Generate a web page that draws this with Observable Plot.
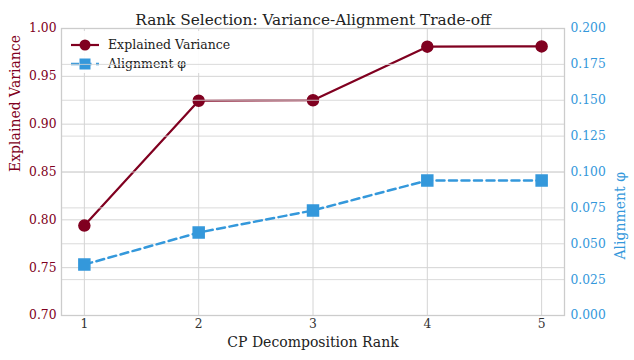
<!DOCTYPE html>
<html>
<head>
<meta charset="utf-8">
<script src="https://cdn.jsdelivr.net/npm/d3@7"></script>
<script src="https://cdn.jsdelivr.net/npm/@observablehq/plot@0.6"></script>
<style>
  html, body { margin: 0; padding: 0; background: white; }
  #chart { position: relative; width: 634px; height: 360px; }
  #chart svg, #chart svg text { font-family: "DejaVu Serif", serif !important; }
</style>
</head>
<body>
<div id="chart"></div>
<script>
const ranks = [1, 2, 3, 4, 5];
const explainedVariance = [0.794, 0.9245, 0.925, 0.981, 0.9813];
const alignment = [0.0355, 0.0578, 0.0732, 0.0941, 0.0941];
const leftTicks = [0.70, 0.75, 0.80, 0.85, 0.90, 0.95, 1.00];
const rightTicks = [0, 0.025, 0.05, 0.075, 0.1, 0.125, 0.15, 0.175, 0.2];

const RED = "#800020";
const BLUE = "#3498db";
const GRID = "#d4d4d4";

// map right-axis values into the left-axis domain
const toLeft = a => 0.70 + a * (0.30 / 0.20);
const fromLeft = v => (v - 0.70) * (0.20 / 0.30);

const evData = ranks.map((r, i) => ({rank: r, value: explainedVariance[i]}));
const alData = ranks.map((r, i) => ({rank: r, value: toLeft(alignment[i])}));

const plot = Plot.plot({
  width: 634,
  height: 360,
  marginTop: 28,
  marginBottom: 45,
  marginLeft: 61,
  marginRight: 70,
  style: {fontFamily: "DejaVu Serif", fontSize: "12px", background: "white", color: "#333"},
  x: {domain: [0.8, 5.2]},
  y: {domain: [0.70, 1.00]},
  marks: [
    Plot.gridY(leftTicks, {stroke: GRID, strokeOpacity: 1, strokeWidth: 1}),
    Plot.gridX(ranks, {stroke: GRID, strokeOpacity: 1, strokeWidth: 1}),
    Plot.axisY(leftTicks, {
      anchor: "left", tickSize: 0, tickPadding: 5,
      tickFormat: d3.format(".2f"), fill: RED, fontSize: 12.3,
      label: null
    }),
    Plot.axisY(rightTicks.map(toLeft), {
      anchor: "right", tickSize: 0, tickPadding: 6,
      tickFormat: v => fromLeft(v).toFixed(3), fill: BLUE, fontSize: 12.3,
      label: null
    }),
    Plot.axisX(ranks, {
      anchor: "bottom", tickSize: 0, tickPadding: 4,
      tickFormat: d3.format("d"), fill: "#333", fontSize: 12.3, label: null
    }),
    Plot.line(evData, {x: "rank", y: "value", stroke: RED, strokeWidth: 2.2}),
    Plot.dot(evData, {x: "rank", y: "value", r: 5.5, fill: RED, stroke: RED, symbol: "circle"}),
    Plot.gridY(rightTicks.map(toLeft), {stroke: GRID, strokeOpacity: 0.85, strokeWidth: 1, ariaLabel: "right-grid"}),
    Plot.frame({stroke: "#cccccc", strokeWidth: 1.3}),
    Plot.line(alData, {x: "rank", y: "value", stroke: BLUE, strokeWidth: 2.5, strokeDasharray: "8,4.5"}),
    Plot.dot(alData, {x: "rank", y: "value", r: 6.2, fill: BLUE, stroke: BLUE, symbol: "square"}),
    Plot.text(["Rank Selection: Variance-Alignment Trade-off"], {
      frameAnchor: "top", dy: -14, fontSize: 15.3, fill: "#222", textAnchor: "middle"
    }),
    Plot.text(["CP Decomposition Rank"], {
      frameAnchor: "bottom", dy: 31, fontSize: 14, fill: "#222"
    }),
    Plot.text(["Explained Variance"], {
      frameAnchor: "left", dx: -46, rotate: -90, fontSize: 14, fill: RED
    }),
    Plot.text(["Alignment φ"], {
      frameAnchor: "right", dx: 56, rotate: -90, fontSize: 14, fill: BLUE
    })
  ]
});

document.getElementById("chart").appendChild(plot);

// legend (belongs to the left axes: drawn beneath the right-axis grid)
const svg = d3.select(plot);
const lg = svg.insert("g", '[aria-label="right-grid"]')
  .attr("font-family", "DejaVu Serif").attr("font-size", 12.5).attr("text-anchor", "start");
lg.append("rect").attr("x", 64).attr("y", 31).attr("width", 174).attr("height", 42)
  .attr("fill", "white").attr("fill-opacity", 0.9).attr("rx", 3);
// row 1
lg.append("line").attr("x1", 71).attr("x2", 99).attr("y1", 45).attr("y2", 45)
  .attr("stroke", RED).attr("stroke-width", 2.2);
lg.append("circle").attr("cx", 85).attr("cy", 45).attr("r", 5.5).attr("fill", RED);
lg.append("text").attr("x", 108).attr("y", 45).attr("dy", "0.35em").attr("fill", "#222").text("Explained Variance");
// row 2
lg.append("line").attr("x1", 71).attr("x2", 99).attr("y1", 64).attr("y2", 64)
  .attr("stroke", BLUE).attr("stroke-width", 2.5).attr("stroke-dasharray", "8,4.5");
lg.append("rect").attr("x", 85 - 5.5).attr("y", 64 - 5.5).attr("width", 11).attr("height", 11).attr("fill", BLUE);
lg.append("text").attr("x", 108).attr("y", 64).attr("dy", "0.35em").attr("fill", "#222").text("Alignment φ");
</script>
</body>
</html>
